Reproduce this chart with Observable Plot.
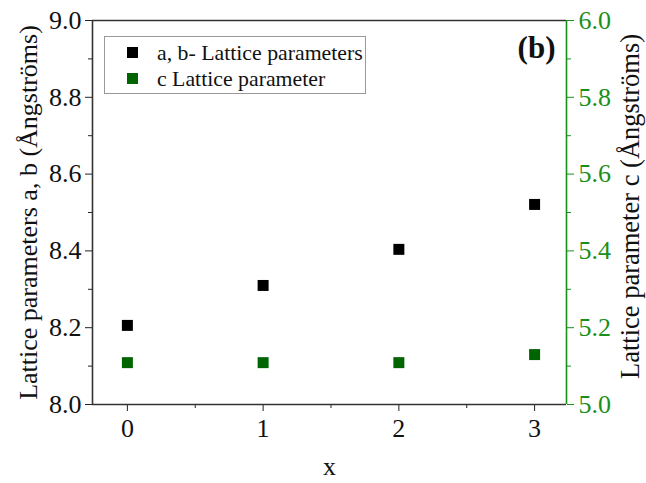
<!DOCTYPE html>
<html><head><meta charset="utf-8">
<script src="https://cdn.jsdelivr.net/npm/d3@7"></script>
<script src="https://cdn.jsdelivr.net/npm/@observablehq/plot@0.6"></script>
<style>
body{margin:0;background:#fff}
#wrap{position:relative;width:646px;height:483px;overflow:hidden}
#legend{position:absolute;left:104px;top:36px;width:262px;height:58px;border:1px solid #999;background:#fff;box-sizing:border-box;font-family:"Liberation Serif","Times New Roman","DejaVu Serif",serif;font-size:21.8px;color:#111}
#legend .row{position:absolute;left:0;height:26px;line-height:26px;white-space:nowrap}
#legend .sw{position:absolute;left:22px;top:7px;width:11px;height:11px}
#legend .lab{position:absolute;left:52px;top:0}
</style>
</head><body>
<div id="wrap"></div>
<script>
const xs = [0, 1, 2, 3];
const abValues = [8.206, 8.31, 8.404, 8.521];
const cValues = [5.109, 5.109, 5.109, 5.13];
const xTicks = [0, 1, 2, 3];
const leftTicks = [8.0, 8.2, 8.4, 8.6, 8.8, 9.0];
const rightTicks = [5.0, 5.2, 5.4, 5.6, 5.8, 6.0];
const seriesNames = ["a, b- Lattice parameters", "c Lattice parameter"];
const leftTitle = "Lattice parameters a, b (Ångströms)";
const rightTitle = "Lattice parameter c (Ångströms)";
const xTitle = "x";
const panelTag = "(b)";

const black = "#000000";
const green = "#006400";
const axisGreen = "#1a8f1a";
const cOffset = 3; // right axis value = left axis value - 3

const ab = xs.map((x, i) => ({x, v: abValues[i]}));
const cc = xs.map((x, i) => ({x, v: cValues[i] + cOffset}));

const xDomain = [-0.257, 3.235];
const yDomain = [8.0, 9.0];
const leftMinor = d3.range(8.1, 9.0, 0.2);
const rightMinor = leftMinor;
const xMinor = [0.5, 1.5, 2.5];

const font = '"Liberation Serif", "Times New Roman", "DejaVu Serif", serif';
const plot = Plot.plot({
  width: 646, height: 483,
  marginLeft: 92, marginRight: 80, marginTop: 20, marginBottom: 79,
  style: {fontFamily: font, fontSize: "26px", background: "#fff", color: "#111"},
  x: {domain: xDomain},
  y: {domain: yDomain},
  marks: [
    Plot.axisX({ticks: xTicks, tickSize: 7, tickPadding: 7, tickFormat: d => String(d), label: null, stroke: "#222", fontSize: 26}),
    Plot.axisX({ticks: xMinor, tickSize: 4, tickFormat: () => "", label: null, stroke: "#222"}),
    Plot.axisY({anchor: "left", ticks: leftTicks, tickSize: 7, tickPadding: 4, tickFormat: d => d.toFixed(1), label: null, stroke: "#222", fontSize: 26}),
    Plot.axisY({anchor: "left", ticks: leftMinor, tickSize: 4, tickFormat: () => "", label: null, stroke: "#222"}),
    Plot.axisY({anchor: "right", ticks: rightTicks.map(t => t + cOffset), tickSize: 7, tickPadding: 5, tickFormat: d => (d - cOffset).toFixed(1), label: null, stroke: axisGreen, fill: axisGreen, fontSize: 26}),
    Plot.axisY({anchor: "right", ticks: rightMinor, tickSize: 4, tickFormat: () => "", label: null, stroke: axisGreen}),
    Plot.ruleY([yDomain[0], yDomain[1]], {stroke: "#333", strokeWidth: 1.6}),
    Plot.ruleX([xDomain[0]], {stroke: "#333", strokeWidth: 1.6}),
    Plot.ruleX([xDomain[1]], {stroke: axisGreen, strokeWidth: 1.6}),
    Plot.dot(ab, {x: "x", y: "v", symbol: "square", r: 6.2, fill: black}),
    Plot.dot(cc, {x: "x", y: "v", symbol: "square", r: 6.2, fill: green}),
    Plot.text([leftTitle], {frameAnchor: "left", dx: -64, rotate: -90, text: d => d, fontSize: 26, textAnchor: "middle", lineAnchor: "middle", fill: "#111"}),
    Plot.text([rightTitle], {frameAnchor: "right", dx: 64, dy: -6, rotate: -90, text: d => d, fontSize: 26.5, textAnchor: "middle", lineAnchor: "middle", fill: "#111"}),
    Plot.text([xTitle], {frameAnchor: "bottom", dy: 62, text: d => d, fontSize: 26, lineAnchor: "middle", fill: "#111"}),
    Plot.text([panelTag], {frameAnchor: "top-right", dx: -11, dy: 28, text: d => d, fontSize: 31, fontWeight: "bold", textAnchor: "end", lineAnchor: "middle", fill: "#111"})
  ]
});
const wrap = document.getElementById("wrap");
wrap.appendChild(plot);

const legend = document.createElement("div");
legend.id = "legend";
[black, green].forEach((col, i) => {
  const row = document.createElement("div");
  row.className = "row";
  row.style.top = (3 + i * 26) + "px";
  row.innerHTML = `<span class="sw" style="background:${col}"></span><span class="lab">${seriesNames[i]}</span>`;
  legend.appendChild(row);
});
wrap.appendChild(legend);
</script>
</body></html>
